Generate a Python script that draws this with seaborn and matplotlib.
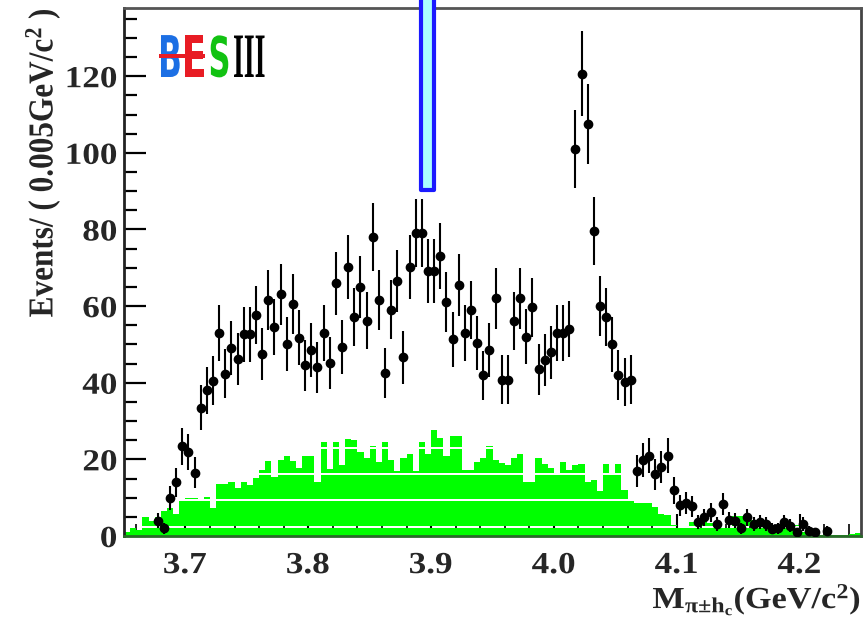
import numpy as np
import pandas as pd
import matplotlib
matplotlib.use("Agg")
import matplotlib.pyplot as plt
import seaborn as sns
from matplotlib.patches import Rectangle
from matplotlib.path import Path
from matplotlib.patheffects import AbstractPathEffect
from matplotlib.ticker import FixedLocator, MultipleLocator
from matplotlib.transforms import Affine2D

# ---------------- data ----------------
bin_lo, bin_hi, bin_w = 3.65, 4.25, 0.005
nan = np.nan
# data events per 0.005 GeV bin (120 bins, 3.65 - 4.25)
data_counts = [
    nan, nan, nan, nan, nan, 4.0, 2.0, 10.0, 14.0, 23.4,
    22.0, 16.5, 33.5, 38.0, 40.5, 53.0, 42.4, 49.1, 46.1, 52.6,
    52.6, 57.6, 47.5, 61.6, 54.5, 63.1, 50.1, 60.6, 51.7, 44.6,
    48.5, 44.0, 53.0, 45.1, 65.9, 49.4, 70.1, 57.2, 65.0, 56.2,
    78.0, 61.5, 42.6, 59.1, 66.6, 46.6, 70.1, 79.0, 79.0, 69.1,
    69.1, 73.1, 61.1, 51.4, 65.5, 52.9, 59.0, 50.4, 41.9, 48.5,
    62.0, 40.8, 40.8, 56.1, 62.0, 52.0, 59.7, 43.5, 45.9, 47.9,
    52.9, 52.9, 54.0, 101.0, 120.7, 107.5, 79.6, 60.0, 57.2, 50.0,
    42.0, 40.2, 40.8, 16.9, 19.9, 21.0, 16.1, 18.0, 21.0, 11.9,
    8.0, 8.6, 7.7, 3.6, 4.9, 6.2, 3.2, 8.4, 4.2, 4.0,
    2.0, 4.9, 3.2, 3.6, 3.2, 1.9, 2.0, 3.6, 2.7, 1.0,
    3.2, 1.4, 1.0, nan, 1.4, nan, nan, nan, nan, nan,
]
# background (green histogram) per bin
bkg_counts = [
    1.0, 2.0, 1.5, 5.0, 4.0, 5.0, 6.5, 7.3, 5.8, 9.5,
    9.9, 9.9, 9.1, 10.3, 7.4, 13.5, 13.5, 14.1, 12.6, 14.1,
    13.2, 15.1, 17.3, 19.7, 15.4, 19.9, 20.8, 19.7, 17.8, 20.8,
    20.8, 14.2, 24.5, 17.6, 24.5, 18.4, 25.4, 25.0, 21.9, 20.4,
    23.5, 19.3, 24.5, 19.9, 16.9, 20.4, 21.5, 17.0, 24.5, 21.5,
    27.6, 25.7, 21.0, 26.2, 26.2, 17.3, 17.3, 19.3, 20.4, 23.6,
    19.9, 19.0, 18.4, 20.4, 21.5, 14.2, 14.2, 20.4, 18.9, 17.7,
    15.8, 19.3, 17.3, 18.4, 18.9, 14.1, 14.5, 11.7, 18.9, 15.8,
    18.9, 12.1, 9.5, 8.6, 8.6, 8.6, 7.5, 5.8, 5.4, 3.0,
    2.5, 2.5, 3.6, 4.1, 4.1, 3.5, 3.0, 2.5, 2.5, 5.1,
    5.1, 4.1, 4.1, 3.1, 3.1, 2.4, 2.4, 2.8, 2.8, 2.8,
    1.0, 1.0, 0.3, 0.3, 0.2, 0.2, 0.2, 0.2, 0.5, 0.7,
]
x_ticks = [3.7, 3.8, 3.9, 4.0, 4.1, 4.2]
x_tick_labels = ["3.7", "3.8", "3.9", "4.0", "4.1", "4.2"]
marker_x0, marker_x1, marker_bottom = 3.8919, 3.9022, 90.4
gap_levels = [2.3, 9.28, 16.08, 22.95]
logo_letters = ["B", "E", "S", "III"]
logo_colors = ["#1c6fe4", "#e81c24", "#12c212", "black"]


# stretch of rendered text (the original figure is slightly wide)
class Stretch(AbstractPathEffect):
    def __init__(self, sx, sy=1.0, anchor="center"):
        super().__init__((0, 0))
        self.sx, self.sy = sx, sy
        self.anchor = anchor

    def draw_path(self, renderer, gc, tpath, affine, rgbFace=None):
        ext = affine.transform_path(tpath).get_extents()
        if self.anchor == "left":
            x0 = ext.x0
        elif self.anchor == "right":
            x0 = ext.x1
        else:
            x0 = 0.5 * (ext.x0 + ext.x1)
        y0 = ext.y0
        aff = affine + Affine2D().translate(-x0, -y0).scale(self.sx, self.sy).translate(x0, y0)
        renderer.draw_path(gc, tpath, aff, rgbFace)


# ---------------- style ----------------
sns.set_theme(style="ticks")
plt.rcParams['font.family'] = ['Liberation Serif', 'DejaVu Serif']
plt.rcParams['font.weight'] = 'bold'
plt.rcParams['mathtext.fontset'] = 'custom'
plt.rcParams['mathtext.rm'] = 'Liberation Serif:bold'
plt.rcParams['mathtext.it'] = 'Liberation Serif:bold'
plt.rcParams['mathtext.bf'] = 'Liberation Serif:bold'

W, H = 867, 622
fig = plt.figure(figsize=(W / 100, H / 100), dpi=100)
fig.patch.set_facecolor("white")
ax = fig.add_axes([124 / W, 1 - 536 / H, (861 - 124) / W, (536 - 8) / H])
ax.set_facecolor("white")

edges = [round(bin_lo + i * bin_w, 4) for i in range(len(bkg_counts) + 1)]
centers = [round((edges[i] + edges[i + 1]) / 2, 5) for i in range(len(bkg_counts))]
df = pd.DataFrame({"mass": centers, "bkg": bkg_counts, "data": data_counts})

n_before = len(ax.collections)
n_patches = len(ax.patches)
sns.histplot(data=df, x="mass", weights="bkg", bins=edges, element="step",
             fill=True, color="#00ff00", alpha=1, linewidth=0, ax=ax)
# thin white gaps seen inside the green area
half = 0.27
bands = []
lo = -5
for g in gap_levels:
    bands.append((lo, g - half))
    lo = g + half
bands.append((lo, 300))
verts, codes = [], []
for a, b in bands:
    verts += [(3.0, a), (5.0, a), (5.0, b), (3.0, b), (3.0, a)]
    codes += [Path.MOVETO, Path.LINETO, Path.LINETO, Path.LINETO, Path.CLOSEPOLY]
clip = Path(verts, codes)
for art in ax.collections[n_before:]:
    art.set_clip_path(clip, ax.transData)
for art in ax.patches[n_patches:]:
    art.set_clip_path(clip, ax.transData)

d = df.dropna(subset=["data"])
ax.errorbar(d["mass"], d["data"], yerr=np.sqrt(d["data"]), xerr=bin_w / 2,
            fmt="o", color="black", ms=6, elinewidth=1.5, capsize=0, zorder=3)

# Zc(3900) marker bar
ax.add_patch(Rectangle((marker_x0, marker_bottom), marker_x1 - marker_x0, 80,
                       facecolor="#aaffff", edgecolor="#1a1aff", lw=3,
                       joinstyle="round", clip_on=False, zorder=5))

ax.set_xlim(bin_lo, bin_hi)
ax.set_ylim(0, 137.8)
ax.set_axisbelow(True)

ax.xaxis.set_major_locator(FixedLocator(x_ticks))
ax.set_xticklabels([f"${s}$" for s in x_tick_labels])
ax.xaxis.set_minor_locator(MultipleLocator(0.02))
ax.tick_params(axis="x", which="major", direction="in", length=16, width=1.5,
               color="black", pad=11, labelsize=22)
ax.tick_params(axis="x", which="minor", direction="in", length=9, width=1.2, color="black")
ax.yaxis.set_major_locator(MultipleLocator(20))
ax.yaxis.set_minor_locator(MultipleLocator(5))
ax.tick_params(axis="y", which="major", direction="in", length=16, width=1.6,
               color="black", pad=5, labelsize=22)
ax.tick_params(axis="y", which="minor", direction="in", length=9, width=1.6, color="black")

for side, col in [("left", "#222222"), ("top", "#555555"), ("right", "#444444"), ("bottom", "#2a6a2a")]:
    ax.spines[side].set_visible(True)
    ax.spines[side].set_color(col)
    ax.spines[side].set_linewidth(2)

ax.set_ylabel(r"Events/ ( 0.005GeV/c$^{2}$ )", loc="top", fontsize=22.5,
              fontweight="bold", labelpad=8)
ax.set_xlabel(r"M$_{\pi{\pm}\mathrm{h}_{c}}$(GeV/c$^{2}$)", loc="right",
              fontsize=22, fontweight="bold", labelpad=0.5)

# ---------------- BESIII logo ----------------
logo_x = [170.0, 194.0, 219.5, 249.0]
logo_sx = [1.12, 1.3, 1.1, 1.0]
logo_sy = [2.07, 2.07, 2.0, 2.28]
logo_fam = ["DejaVu Sans", "DejaVu Sans", "DejaVu Sans", "Liberation Serif"]
for ch, col, xc, sx, sy, fam in zip(logo_letters, logo_colors, logo_x, logo_sx, logo_sy, logo_fam):
    t = fig.text(xc / W, 1 - 77 / H, ch, color=col, fontsize=20, family=fam,
                 fontweight="bold", ha="center", va="baseline")
    t.set_path_effects([Stretch(sx, sy, "center")])
fig.patches.append(Rectangle((159.3 / W, 1 - 58.2 / H), 46 / W, 4 / H,
                             transform=fig.transFigure, fc="#e81c24", ec="none",
                             figure=fig, zorder=5))

fig.canvas.draw()
for lab in ax.get_xticklabels():
    lab.set_fontweight("bold")
    lab.set_path_effects([Stretch(1.15, 1.0, "center")])
for lab in ax.get_yticklabels():
    lab.set_fontweight("bold")
    lab.set_path_effects([Stretch(1.15, 1.0, "right")])
ax.xaxis.label.set_path_effects([Stretch(1.12, 1.0, "right")])
ax.yaxis.label.set_path_effects([Stretch(1.12, 1.0, "center")])

fig.savefig("out.png", dpi=100, facecolor="white")
